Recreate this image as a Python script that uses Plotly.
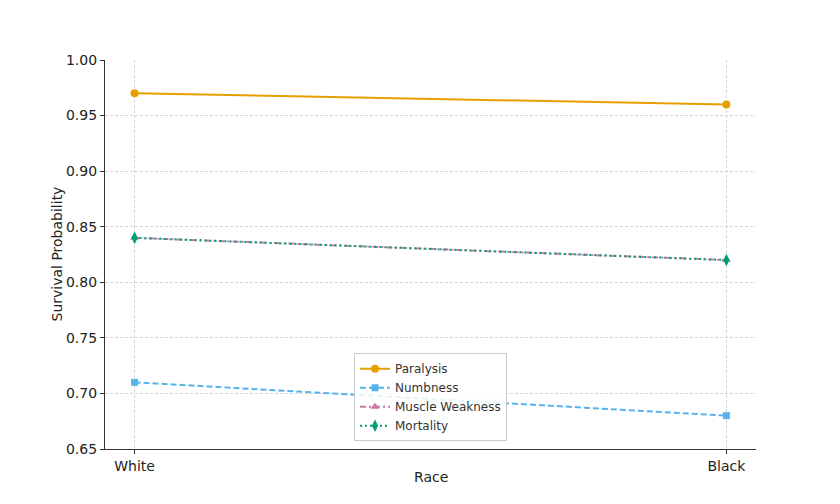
import plotly.graph_objects as go

races = ["White", "Black"]
paralysis = [0.97, 0.96]
numbness = [0.71, 0.68]
muscle_weakness = [0.84, 0.82]
mortality = [0.84, 0.82]
y_ticks = [0.65, 0.70, 0.75, 0.80, 0.85, 0.90, 0.95, 1.00]

fig = go.Figure()
fig.add_trace(go.Scatter(x=races, y=paralysis, name="Paralysis", mode="lines+markers",
                         line=dict(color="#E69F00", width=2, dash="solid"),
                         marker=dict(symbol="circle", size=8, color="#E69F00")))
fig.add_trace(go.Scatter(x=races, y=numbness, name="Numbness", mode="lines+markers",
                         line=dict(color="#56B4E9", width=2, dash="6px,3px"),
                         marker=dict(symbol="square", size=7, color="#56B4E9")))
fig.add_trace(go.Scatter(x=races, y=muscle_weakness, name="Muscle Weakness", mode="lines+markers",
                         line=dict(color="#CC79A7", width=2, dash="6px,3px,2px,3px"),
                         marker=dict(symbol="triangle-up", size=8, color="#CC79A7")))
fig.add_trace(go.Scatter(x=races, y=mortality, name="Mortality", mode="lines+markers",
                         line=dict(color="#009E73", width=2, dash="2px,3px"),
                         marker=dict(symbol="diamond-tall", size=9, color="#009E73")))

fig.update_layout(
    width=840, height=504,
    paper_bgcolor="white", plot_bgcolor="white",
    margin=dict(l=97, r=92, t=52, b=63),
    font=dict(family="DejaVu Sans", size=14, color="#222222"),
    showlegend=True,
    legend=dict(x=0.5, xanchor="center", y=0.02, yanchor="bottom",
                bgcolor="rgba(255,255,255,0.85)", bordercolor="#CCCCCC", borderwidth=1,
                font=dict(size=12, color="#333333"), tracegroupgap=0, itemwidth=30),
    xaxis=dict(type="category", range=[-0.05, 1.05], automargin=False,
               showgrid=True, gridcolor="#D5D5D5", griddash="3px,2px", gridwidth=1,
               showline=True, linecolor="#333333", linewidth=1.2, mirror=False,
               ticks="outside", ticklen=4, tickcolor="#333333", zeroline=False,
               tickfont=dict(size=14)),
    yaxis=dict(range=[0.65, 1.0], automargin=False,
               tickvals=y_ticks, tickformat=".2f",
               showgrid=True, gridcolor="#D5D5D5", griddash="3px,2px", gridwidth=1,
               showline=True, linecolor="#333333", linewidth=1.2, mirror=False,
               ticks="outside", ticklen=4, tickcolor="#333333", zeroline=False,
               tickfont=dict(size=14)),
    annotations=[
        dict(text="Race", xref="paper", yref="paper", x=0.5, y=0, xanchor="center",
             yanchor="middle", yshift=-28, showarrow=False, font=dict(size=14, color="#222222")),
        dict(text="Survival Probability", xref="paper", yref="paper", x=0, y=0.5,
             xanchor="center", yanchor="middle", xshift=-49, textangle=-90,
             showarrow=False, font=dict(size=14, color="#222222")),
    ],
)

fig.write_html("out.html")
